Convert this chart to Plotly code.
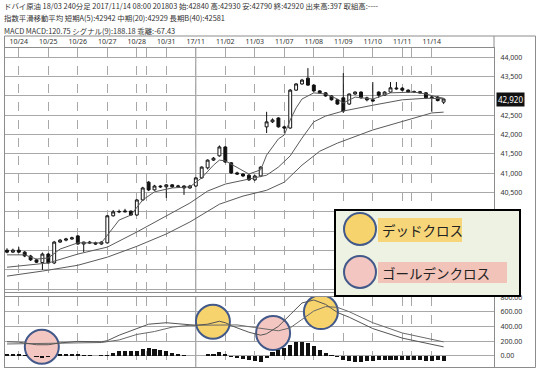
import plotly.graph_objects as go

# ---------------- data ----------------
bar_idx = list(range(75))
opens = [39010, 38960, 39010, 38960, 38860, 38760, 38690, 38910, 38680, 39220,
         39270, 39300, 39380, 39170, 39220, 39200, 39170, 39200, 39900, 40000,
         40000, 40020, 39920, 40310, 40770, 40570, 40670, 40650, 40700, 40650,
         40670, 40620, 40670, 40880, 41140, 41340, 41450, 41680, 41270, 41010,
         40980, 40950, 40830, 40930, 42200, 42330, 42430, 42200, 42170, 43150,
         43310, 43460, 43280, 43130, 43080, 43000, 42900, 42950, 42790, 43050,
         43100, 42950, 42900, 43100, 43020, 43100, 43180, 43200, 43150, 43100,
         43110, 43080, 42950, 42970, 42840]
highs = [39060, 39050, 39090, 38990, 38890, 38790, 38950, 38940, 39250, 39300,
         39330, 39360, 39400, 39230, 39250, 39230, 39240, 39920, 40050, 40060,
         40080, 40040, 40330, 40650, 40800, 40700, 40690, 40720, 40720, 40700,
         40690, 40700, 40900, 41180, 41360, 41420, 41720, 41700, 41290, 41040,
         41000, 40980, 40960, 41180, 42590, 42420, 42450, 42230, 43180, 43330,
         43440, 43720, 43300, 43150, 43100, 43020, 42920, 43590, 43060, 43120,
         43120, 42980, 43360, 43120, 43120, 43360, 43360, 43230, 43170, 43140,
         43130, 43100, 43000, 43000, 42930]
lows = [38930, 38940, 38940, 38830, 38730, 38680, 38500, 38660, 38650, 39200,
        39240, 39280, 39150, 38960, 39170, 39150, 39150, 39180, 39880, 39970,
        39990, 39900, 39900, 40280, 40540, 40550, 40620, 40360, 40620, 40640,
        40440, 40600, 40650, 40860, 41100, 41320, 41430, 41270, 40980, 40960,
        40900, 40800, 40800, 40900, 42040, 42300, 42180, 42040, 42150, 43130,
        43290, 43260, 43110, 43050, 42980, 42880, 42770, 42560, 42770, 43030,
        42930, 42860, 42850, 42950, 43000, 43080, 43160, 43120, 43080, 43080,
        43060, 42920, 42590, 42860, 42790]
closes = [38960, 39010, 38960, 38860, 38760, 38700, 38910, 38680, 39220, 39270,
          39300, 39330, 39170, 39220, 39200, 39170, 39220, 39900, 40000, 40010,
          40020, 39920, 40310, 40620, 40570, 40670, 40650, 40700, 40650, 40670,
          40620, 40670, 40880, 41160, 41340, 41390, 41680, 41290, 41010, 40980,
          40930, 40830, 40930, 41160, 42330, 42380, 42200, 42170, 43150, 43310,
          43410, 43280, 43130, 43080, 43000, 42900, 42790, 42610, 43050, 43100,
          42950, 42900, 42870, 43020, 43100, 43210, 43200, 43150, 43100, 43110,
          43080, 42950, 42970, 42880, 42920]

# exponential moving averages (bar index, price)
short_x = [0, 3, 5, 7, 9, 12, 16, 17, 19, 21, 23, 25, 28, 31, 33, 35, 36, 37, 39, 41,
           43, 44, 46, 47, 48, 49, 50, 52, 54, 56, 57, 59, 62, 65, 69, 71, 73, 74]
short_v = [38890, 38890, 38780, 38810, 39040, 39200, 39200, 39400, 39790, 39920,
           40310, 40520, 40620, 40650, 40880, 41210, 41340, 41320, 41140, 40980,
           41090, 41470, 41890, 41990, 42380, 42690, 42920, 43080, 43050, 42920,
           42820, 42970, 42920, 43080, 43100, 43050, 42970, 42942]
mid_x = [0, 7, 12, 17, 22, 27, 31, 34, 37, 41, 44, 46, 48, 50, 52, 54, 57, 62, 67, 71, 74]
mid_v = [38570, 38680, 38910, 39090, 39480, 39890, 40230, 40540, 40720, 40850, 40950,
         41160, 41450, 41910, 42330, 42480, 42610, 42760, 42900, 42940, 42929]
long_x = [0, 6, 12, 17, 22, 27, 31, 36, 40, 44, 47, 50, 53, 56, 62, 67, 72, 74]
long_v = [38340, 38470, 38620, 38830, 39110, 39430, 39740, 40200, 40410, 40560,
          40770, 41210, 41570, 41780, 42120, 42350, 42560, 42581]

# MACD
macd_x = [0, 2, 5, 7, 9, 12, 16, 17, 19, 22, 24, 27, 29, 32, 34, 36, 37, 38, 41, 43,
          44, 46, 48, 50, 52, 54, 56, 58, 62, 67, 74]
macd_v = [190, 185, 150, 150, 175, 195, 190, 205, 280, 370, 430, 450, 440, 415, 430,
          470, 450, 410, 320, 280, 300, 400, 560, 720, 760, 700, 590, 525, 370, 240, 120.75]
signal_x = [0, 5, 9, 16, 19, 22, 25, 28, 31, 34, 37, 39, 42, 44, 46, 48, 50, 52, 54,
            56, 58, 62, 67, 74]
signal_v = [160, 165, 165, 180, 215, 290, 330, 390, 415, 415, 420, 420, 385, 360, 340,
            380, 500, 610, 670, 660, 600, 450, 310, 188.18]
hist_v = [30, 30, 25, 5, -10, -20, -25, -20, -10, 25, 25, 20, 20, 15, 10, 0, 5, 5, 40, 60,
          65, 60, 70, 90, 100, 95, 80, 60, 40, 25, 10, -5, -8, 2, 20, 30, 45, 30, -15, -35,
          -50, -65, -75, -80, -30, 50, 80, 100, 150, 185, 190, 170, 130, 80, 40, 5, -20,
          -60, -75, -80, -80, -75, -70, -65, -60, -58, -60, -62, -60, -62, -65, -68, -66,
          -65, -67.43]

# crosses marked on the MACD panel
cross_x = [5.9, 34.9, 45.1, 53.2]
cross_y = [122, 463, 309, 595]
cross_kind = ["golden", "dead", "golden", "dead"]

tick_pos = [2, 7, 12, 17, 22, 23.7, 27, 32, 37, 42, 47, 52, 57, 62, 67, 68.6, 72]
tick_txt = ["10/24", "10/25", "10/26", "10/27", "10/28", "", "10/31", "17/11", "11/02",
            "11/03", "11/07", "11/08", "11/09", "11/10", "11/11", "", "11/14"]
price_ticks = list(range(38000, 44001, 500))
# labels at 43,000 and below 40,500 are hidden behind the price tag / legend box
price_labels = ["", "", "", "", "", "40,500", "41,000", "41,500", "42,000", "42,500",
                "", "43,500", "44,000"]
macd_ticks = [0, 200, 400, 600, 800]
last_price = 42920

header_lines = [
    "ドバイ原油 18/03 240分足 2017/11/14 08:00 201803 始:42840 高:42930 安:42790 終:42920 出来高:397 取組高:----",
    "指数平滑移動平均 短期A(5):42942 中期(20):42929 長期B(40):42581",
    "MACD MACD:120.75 シグナル(9):188.18 乖離:-67.43",
]
legend_labels = ["デッドクロス", "ゴールデンクロス"]

# ---------------- styling ----------------
W, H = 540, 375
ML, MR, MT, MB = 5, 46, 48, 8
PW, PH = W - ML - MR, H - MT - MB


def px_x(p):
    return (p - ML) / PW


def px_y(p):
    return (H - MB - p) / PH


MAIN_DOM = [px_y(292), 1]
MACD_DOM = [0, px_y(297)]
XR = [-0.34, 82.54]
Y1R = [37929, 44240]
Y2R = [-154, 801]

YELLOW = "#f6d36c"
PINK = "#f4c6c1"
RING = "#42598a"
GRID = "#a8a8a8"
FRAME = "#8c8c8c"
CJK = "Noto Sans CJK JP"

fig = go.Figure()

line_style = dict(color="#5a5a5a", width=1)
for xs, vs in [(long_x, long_v), (mid_x, mid_v), (short_x, short_v)]:
    fig.add_trace(go.Scatter(x=xs, y=vs, mode="lines", line=line_style,
                             xaxis="x", yaxis="y", hoverinfo="skip", showlegend=False))

fig.add_trace(go.Candlestick(
    x=bar_idx, open=opens, high=highs, low=lows, close=closes,
    increasing=dict(line=dict(color="#111", width=1), fillcolor="white"),
    decreasing=dict(line=dict(color="#111", width=1), fillcolor="#111"),
    whiskerwidth=0, xaxis="x", yaxis="y", hoverinfo="skip", showlegend=False))

fig.add_trace(go.Bar(x=bar_idx, y=hist_v, width=0.7, marker=dict(color="#111", line=dict(width=0)),
                     xaxis="x2", yaxis="y2", hoverinfo="skip", showlegend=False))
for xs, vs, col in [(signal_x, signal_v, "#6a6a6a"), (macd_x, macd_v, "#555555")]:
    fig.add_trace(go.Scatter(x=xs, y=vs, mode="lines", line=dict(color=col, width=1),
                             xaxis="x2", yaxis="y2", hoverinfo="skip", showlegend=False))

shapes = []
# cross circles on MACD panel (between grid and traces)
rx = 17 / (PW / (XR[1] - XR[0]))
ry = 17 / ((PH * (MACD_DOM[1] - MACD_DOM[0])) / (Y2R[1] - Y2R[0]))
for cx, cy, kind in zip(cross_x, cross_y, cross_kind):
    shapes.append(dict(type="circle", xref="x2", yref="y2", x0=cx - rx, x1=cx + rx,
                       y0=cy - ry, y1=cy + ry, layer="between",
                       fillcolor=YELLOW if kind == "dead" else PINK,
                       line=dict(color=RING, width=2)))
# month boundary solid line
for yr in ["y domain", "y2 domain"]:
    shapes.append(dict(type="line", xref="x", yref=yr, x0=32, x1=32, y0=0, y1=1,
                       line=dict(color=FRAME, width=1), layer="below"))
# outer frame
shapes.append(dict(type="rect", xref="paper", yref="paper", x0=px_x(4.5), x1=px_x(535.5),
                   y0=px_y(367.5), y1=px_y(36), line=dict(color=FRAME, width=1)))
shapes.append(dict(type="line", xref="paper", yref="paper", x0=1, x1=1,
                   y0=1, y1=px_y(36), line=dict(color=FRAME, width=1)))
# legend box
shapes.append(dict(type="rect", xref="paper", yref="paper", x0=px_x(335), x1=px_x(520),
                   y0=px_y(296), y1=px_y(210), fillcolor="#eef2e3",
                   line=dict(color="black", width=2), layer="above"))
shapes.append(dict(type="rect", xref="paper", yref="paper", x0=px_x(378), x1=px_x(462),
                   y0=px_y(242), y1=px_y(218), fillcolor="#f7d67a", line=dict(width=0), layer="above"))
shapes.append(dict(type="rect", xref="paper", yref="paper", x0=px_x(378), x1=px_x(507),
                   y0=px_y(283), y1=px_y(262), fillcolor="#f1c3b9", line=dict(width=0), layer="above"))
for cy, col in [(229, YELLOW), (272, PINK)]:
    shapes.append(dict(type="circle", xref="paper", yref="paper", x0=px_x(344), x1=px_x(376),
                       y0=px_y(cy + 16), y1=px_y(cy - 16), fillcolor=col,
                       line=dict(color=RING, width=2), layer="above"))

annotations = []
for i, t in enumerate(header_lines):
    annotations.append(dict(text=t, xref="paper", yref="paper", x=px_x(2), y=px_y(5.5 + 12.5 * i),
                            xanchor="left", yanchor="middle", showarrow=False,
                            font=dict(family=CJK, size=7.4, color="#333")))
for t, cy in zip(legend_labels, [230, 273]):
    annotations.append(dict(text=t, xref="paper", yref="paper", x=px_x(380), y=px_y(cy),
                            xanchor="left", yanchor="middle", showarrow=False,
                            font=dict(family=CJK, size=13.5, color="#222")))
annotations.append(dict(text=f"{last_price:,}", xref="paper", yref="y", x=px_x(496), y=last_price,
                        xanchor="left", yanchor="middle", showarrow=False, bgcolor="#111",
                        borderpad=1, font=dict(family="Noto Sans", size=8, color="white")))

axis_font = dict(family="Noto Sans", size=7, color="#333")
common_x = dict(range=XR, tickmode="array", tickvals=tick_pos, showgrid=True, gridcolor=GRID,
                griddash="dash", gridwidth=1, zeroline=False, showline=True, linecolor=FRAME,
                mirror=True, ticks="", fixedrange=True, automargin=False)

fig.update_layout(
    width=W, height=H, autosize=False,
    margin=dict(l=ML, r=MR, t=MT, b=MB, pad=0),
    paper_bgcolor="white", plot_bgcolor="white",
    showlegend=False, bargap=0,
    xaxis=dict(**common_x, domain=[0, 1], anchor="y", side="top", ticktext=tick_txt,
               tickfont=axis_font, rangeslider=dict(visible=False)),
    yaxis=dict(domain=MAIN_DOM, range=Y1R, side="right", tickmode="array", tickvals=price_ticks,
               ticktext=price_labels, showgrid=True, gridcolor=GRID, zeroline=False,
               showline=True, linecolor=FRAME, mirror=True, ticks="", tickfont=axis_font,
               anchor="x", ticklabelstandoff=4, fixedrange=True, automargin=False),
    xaxis2=dict(**common_x, domain=[0, 1], anchor="y2", matches="x", showticklabels=False),
    yaxis2=dict(domain=MACD_DOM, range=Y2R, side="right", tickmode="array", tickvals=macd_ticks,
                ticktext=[f"{v:.2f}" for v in macd_ticks], showgrid=True, gridcolor=GRID,
                zeroline=False, showline=True, linecolor=FRAME, mirror=True, ticks="",
                tickfont=axis_font, anchor="x2", ticklabelstandoff=4, fixedrange=True,
                automargin=False),
    shapes=shapes, annotations=annotations,
)

fig.write_html(
    "out.html",
    config={"displayModeBar": False, "staticPlot": True},
    post_script="document.body.style.margin='0';document.body.style.overflow='hidden';",
)
